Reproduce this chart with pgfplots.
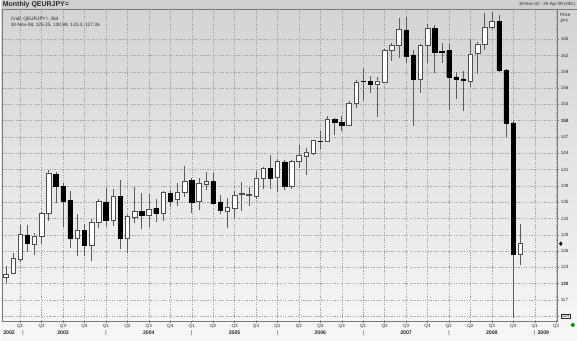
\documentclass[border=0pt]{standalone}
\usepackage{pgfplots}
\pgfplotsset{compat=1.18}
\usepackage{pgfplotstable}
\usepackage{fontspec}
\setmainfont{Liberation Sans}
\definecolor{wick}{HTML}{5C5C5C}
\definecolor{bodyline}{HTML}{4E4E4E}
\definecolor{gridc}{HTML}{A4A4A4}
\definecolor{bgtop}{HTML}{D3D3D3}
\definecolor{bgbot}{HTML}{F7F7F7}
\definecolor{titlebar}{HTML}{D0D0D0}
\definecolor{axisc}{HTML}{7A7A7A}
\definecolor{txt}{HTML}{2A2A2A}

\pgfplotstableread{
x O H L C
0 121.14 123.16 120.10 121.75
1 121.90 125.55 121.70 124.63
2 124.51 130.75 123.90 129.09
3 128.97 130.75 125.85 127.44
4 127.26 129.40 125.30 128.79
5 128.79 133.20 127.26 132.90
6 132.90 140.84 131.54 140.41
7 140.10 140.53 134.90 137.84
8 137.84 138.57 130.50 135.21
9 135.39 137.05 126.65 128.30
10 128.30 132.90 125.00 129.89
11 129.83 130.93 125.10 127.14
12 127.14 131.97 124.08 131.36
13 131.24 135.64 130.20 135.09
14 135.03 137.66 130.62 131.72
15 131.66 137.47 130.62 136.13
16 136.13 139.06 126.46 128.30
17 128.30 132.58 125.73 132.34
18 132.27 137.78 131.11 133.25
19 133.37 136.74 130.01 132.58
20 132.58 136.43 130.50 133.62
21 133.86 135.52 131.42 132.95
22 132.95 137.05 131.54 136.74
23 136.62 137.17 134.17 135.21
24 135.52 138.57 134.29 136.86
25 136.74 141.63 136.00 138.76
26 139.06 139.49 132.95 135.00
27 135.09 139.49 133.50 138.45
28 138.39 140.59 137.23 138.76
29 138.76 140.40 134.40 134.72
30 135.03 136.25 132.88 133.50
31 133.37 135.82 130.32 134.11
32 133.86 137.05 132.15 136.25
33 136.43 138.76 133.37 136.56
34 136.31 137.78 134.30 136.43
35 136.13 140.71 135.64 139.49
36 139.49 141.45 137.35 141.20
37 141.20 143.65 137.35 139.49
38 139.67 142.86 136.86 142.55
39 142.43 142.67 137.17 137.84
40 137.84 142.67 137.50 142.55
41 142.55 145.60 141.33 143.65
42 143.47 145.00 139.98 144.20
43 143.94 146.50 143.60 146.33
44 146.25 148.04 144.86 146.15
45 146.20 150.79 146.08 150.30
46 150.30 150.40 147.43 149.75
47 149.75 150.79 148.04 149.14
48 149.14 153.54 148.95 153.24
49 153.13 157.50 152.30 157.10
50 157.30 159.67 153.56 157.17
51 157.23 158.27 155.10 156.74
52 156.74 157.96 150.68 157.35
53 157.10 163.20 156.90 163.00
54 162.90 164.38 161.00 163.83
55 163.83 168.97 161.50 166.83
56 166.70 169.15 160.59 161.80
57 162.12 163.03 149.09 157.70
58 157.65 164.08 155.10 163.83
59 163.83 167.81 160.59 167.00
60 167.00 167.62 158.75 162.61
61 162.73 164.30 160.70 162.55
62 162.91 164.14 152.00 158.08
63 158.08 158.88 153.98 157.59
64 157.70 159.18 151.70 157.50
65 157.29 164.99 156.20 162.30
66 162.42 164.44 158.63 164.14
67 164.14 169.76 163.03 167.19
68 167.13 170.07 166.89 168.23
69 168.23 169.46 159.00 159.30
70 159.30 159.49 147.00 149.60
71 149.60 150.00 113.60 125.35
72 125.35 130.98 123.40 127.36
}\candles

\pgfplotsset{candleaxis/.style={
  scale only axis, width=556pt, height=313pt,
  xmin=-0.45, xmax=77.1, ymin=113.13, ymax=170.56,
  enlargelimits=false,
}}

\setlength{\fboxsep}{0.6pt}
\setlength{\fboxrule}{0.4pt}

\begin{document}
\begin{tikzpicture}
\shade[top color=bgtop, bottom color=bgbot] (-1pt,-20pt) rectangle (576pt,322pt);
\fill[titlebar] (-1pt,313pt) rectangle (576pt,322pt);
\draw[color=axisc, line width=0.4pt] (-1pt,313pt) -- (576pt,313pt);

\begin{axis}[candleaxis,
  axis line style={draw=axisc, line width=0.4pt},
  grid=major,
  major grid style={gridc, dash pattern=on 1.3pt off 1.3pt, line width=0.35pt},
  ytick={114,117,...,165},
  yticklabels={\fbox{114},117,\textbf{120},123,126,129,132,135,138,141,144,147,\textbf{150},153,156,159,162,165},
  yticklabel pos=right, ytick pos=right,
  xtick={2,5,...,77},
  xticklabels={Q1,Q2,Q3,Q4,Q1,Q2,Q3,Q4,Q1,Q2,Q3,Q4,Q1,Q2,Q3,Q4,Q1,Q2,Q3,Q4,Q1,Q2,Q3,Q4,Q1,Q2},
  xtick pos=bottom,
  tick align=outside,
  major tick length=2.5pt,
  minor x tick num=2,
  minor tick length=1.5pt,
  tick style={axisc, line width=0.4pt},
  ticklabel style={font=\fontsize{4.6}{5}\selectfont, text=txt},
  xticklabel style={inner sep=1pt},
  yticklabel style={inner sep=1.2pt},
]
\addplot[draw=none, mark=none, mark size=0pt, mark options={draw=none, fill=none},
  error bars/.cd, y dir=plus, y explicit, error mark=none,
  error bar style={draw=wick, line width=0.6pt, solid}]
  table[x=x, y=L, y error plus expr=\thisrow{H}-\thisrow{L}] {\candles};
\end{axis}

\begin{axis}[candleaxis, hide axis, ybar stacked, bar width=0.62]
\addplot[draw=none, fill=none] table[x=x, y expr={min(\thisrow{O},\thisrow{C})}] {\candles};
\addplot[draw=bodyline, fill=white, line width=0.45pt] table[x=x, y expr={max(\thisrow{C}-\thisrow{O},0)}] {\candles};
\addplot[draw=black, fill=black, line width=0.45pt] table[x=x, y expr={max(\thisrow{O}-\thisrow{C},0)}] {\candles};
\end{axis}

\begin{axis}[candleaxis, hide axis, clip=false]
\addplot[only marks, mark=diamond*, mark size=1.9pt, black] coordinates {(77.65,127.36)};
\node[font=\fontsize{5.2}{6}\selectfont\bfseries, text=txt] at (axis cs:0.45,113.13) [yshift=-12pt] {2002};
\node[font=\fontsize{5.2}{6}\selectfont\bfseries, text=txt] at (axis cs:8,113.13) [yshift=-12pt] {2003};
\node[font=\fontsize{5.2}{6}\selectfont\bfseries, text=txt] at (axis cs:20,113.13) [yshift=-12pt] {2004};
\node[font=\fontsize{5.2}{6}\selectfont\bfseries, text=txt] at (axis cs:32,113.13) [yshift=-12pt] {2005};
\node[font=\fontsize{5.2}{6}\selectfont\bfseries, text=txt] at (axis cs:44,113.13) [yshift=-12pt] {2006};
\node[font=\fontsize{5.2}{6}\selectfont\bfseries, text=txt] at (axis cs:56,113.13) [yshift=-12pt] {2007};
\node[font=\fontsize{5.2}{6}\selectfont\bfseries, text=txt] at (axis cs:68,113.13) [yshift=-12pt] {2008};
\node[font=\fontsize{5.2}{6}\selectfont\bfseries, text=txt] at (axis cs:75.2,113.13) [yshift=-12pt] {2009};
\node[font=\fontsize{5.2}{6}\selectfont, text=txt] at (axis cs:2.4,113.13) [yshift=-12pt] {|};
\node[font=\fontsize{5.2}{6}\selectfont, text=txt] at (axis cs:14,113.13) [yshift=-12pt] {|};
\node[font=\fontsize{5.2}{6}\selectfont, text=txt] at (axis cs:26,113.13) [yshift=-12pt] {|};
\node[font=\fontsize{5.2}{6}\selectfont, text=txt] at (axis cs:38,113.13) [yshift=-12pt] {|};
\node[font=\fontsize{5.2}{6}\selectfont, text=txt] at (axis cs:50,113.13) [yshift=-12pt] {|};
\node[font=\fontsize{5.2}{6}\selectfont, text=txt] at (axis cs:62,113.13) [yshift=-12pt] {|};
\node[font=\fontsize{5.2}{6}\selectfont, text=txt] at (axis cs:74,113.13) [yshift=-12pt] {|};
\end{axis}

\node[anchor=west, font=\fontsize{7}{8}\selectfont\bfseries, text=txt, inner sep=0pt] at (0pt,317.5pt) {Monthly QEURJPY=};
\node[anchor=east, font=\fontsize{4.4}{5}\selectfont, text=txt, inner sep=0pt] at (575pt,317.5pt) {30-Nov-02 - 30-Apr-09 (HEL)};
\node[anchor=west, font=\fontsize{4.6}{5}\selectfont, text=txt, inner sep=0pt] at (559pt,307pt) {Price};
\node[anchor=west, font=\fontsize{4.6}{5}\selectfont, text=txt, inner sep=0pt] at (559pt,300.5pt) {JPY};
\node[anchor=west, font=\fontsize{4.8}{5}\selectfont, text=txt, inner sep=0pt] at (8pt,302.7pt) {Cndl, QEURJPY=, Bid};
\node[anchor=west, font=\fontsize{4.8}{5}\selectfont, text=txt, inner sep=0pt] at (8pt,297pt) {30-Nov-08, 125.35, 130.98, 123.4, 127.36};
\fill[green!60!black] (572pt,-4pt) circle (2pt);
\end{tikzpicture}
\end{document}
